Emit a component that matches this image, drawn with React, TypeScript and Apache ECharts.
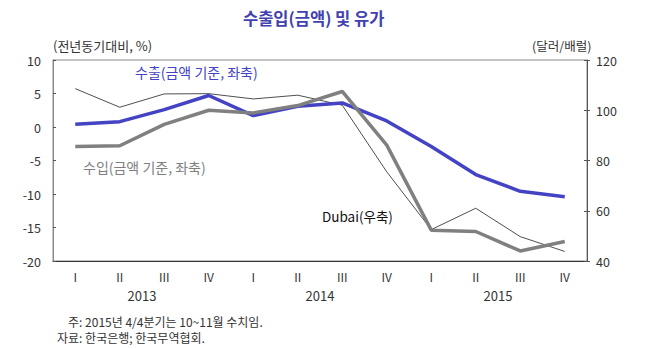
import React, { useEffect, useRef } from "react";
import * as echarts from "echarts";

const quarters = ["I", "II", "III", "IV", "I", "II", "III", "IV", "I", "II", "III", "IV"];
const years = ["2013", "2014", "2015"];
const exportValues = [0.4, 0.8, 2.6, 4.7, 1.7, 3.1, 3.6, 0.9, -2.9, -7.1, -9.6, -10.4];
const importValues = [-2.9, -2.8, 0.4, 2.5, 2.1, 3.2, 5.3, -2.7, -15.4, -15.6, -18.5, -17.1];
const dubaiValues = [108.6, 101.2, 106.5, 106.6, 104.5, 106.0, 102.0, 75.5, 52.5, 61.0, 49.7, 43.8];

const FONT = "Noto Sans CJK KR";
const BLUE = "#4343c4";
const GRAY = "#808080";

export default function App() {
  const ref = useRef<HTMLDivElement>(null);
  useEffect(() => {
    if (!ref.current) return;
    const chart = echarts.init(ref.current, undefined, { renderer: "svg" });
    chart.setOption({
      animation: false,
      textStyle: { fontFamily: FONT },
      grid: {
        left: 53,
        right: 63,
        top: 60,
        bottom: 88,
        show: true,
        borderColor: "#8a8a8a",
        borderWidth: 1,
      },
      xAxis: [
        {
          type: "category",
          data: quarters,
          boundaryGap: true,
          axisLine: { show: true, onZero: false, lineStyle: { color: "#333", width: 1 } },
          axisTick: { show: false },
          axisLabel: { color: "#333", fontSize: 12, margin: 9, fontFamily: FONT },
        },
        {
          type: "category",
          data: years,
          position: "bottom",
          boundaryGap: true,
          axisLine: { show: false, onZero: false },
          axisTick: { show: false },
          axisLabel: { color: "#333", fontSize: 13, margin: 28, fontFamily: FONT },
        },
      ],
      yAxis: [
        {
          type: "value",
          min: -20,
          max: 10,
          interval: 5,
          position: "left",
          axisLine: { show: true, lineStyle: { color: "#8a8a8a" } },
          axisTick: { show: true, inside: true, length: 3, lineStyle: { color: "#555" } },
          axisLabel: { color: "#333", fontSize: 12.5, margin: 12, fontFamily: FONT },
          splitLine: { show: false },
        },
        {
          type: "value",
          min: 40,
          max: 120,
          interval: 20,
          position: "right",
          axisLine: { show: true, lineStyle: { color: "#555" } },
          axisTick: { show: true, inside: false, length: 3, lineStyle: { color: "#555" } },
          axisLabel: { color: "#333", fontSize: 12.5, margin: 9, fontFamily: FONT },
          splitLine: { show: false },
        },
        {
          type: "value",
          min: 40,
          max: 120,
          interval: 20,
          position: "right",
          axisLine: { show: false },
          axisTick: { show: true, inside: true, length: 3, lineStyle: { color: "#555" } },
          axisLabel: { show: false },
          splitLine: { show: false },
        },
      ],
      series: [
        {
          name: "Dubai",
          type: "line",
          yAxisIndex: 1,
          data: dubaiValues,
          symbol: "none",
          lineStyle: { color: "#222", width: 0.8 },
          z: 1,
        },
        {
          name: "수출",
          type: "line",
          yAxisIndex: 0,
          data: exportValues,
          symbol: "none",
          lineStyle: { color: BLUE, width: 3.5 },
          z: 2,
        },
        {
          name: "수입",
          type: "line",
          yAxisIndex: 0,
          data: importValues,
          symbol: "none",
          lineStyle: { color: GRAY, width: 3.5 },
          z: 3,
        },
      ],
      graphic: [
        {
          type: "text",
          left: 243,
          top: 10,
          style: { text: "수출입(금액) 및 유가", fill: "#4141b0", font: `bold 16.5px '${FONT}'` },
        },
        {
          type: "text",
          left: 53,
          top: 39,
          style: { text: "(전년동기대비, %)", fill: "#333", font: `13px '${FONT}'` },
        },
        {
          type: "text",
          left: 532,
          top: 39,
          style: { text: "(달러/배럴)", fill: "#333", font: `12.5px '${FONT}'` },
        },
        {
          type: "text",
          left: 135,
          top: 65,
          style: { text: "수출(금액 기준, 좌축)", fill: BLUE, font: `14px '${FONT}'` },
        },
        {
          type: "text",
          left: 83,
          top: 160,
          style: { text: "수입(금액 기준, 좌축)", fill: GRAY, font: `14px '${FONT}'` },
        },
        {
          type: "text",
          left: 322,
          top: 209,
          style: { text: "Dubai(우축)", fill: "#111", font: `13.5px '${FONT}'` },
        },
        {
          type: "text",
          left: 68,
          top: 315,
          style: { text: "주: 2015년 4/4분기는 10~11월 수치임.", fill: "#333", font: `12px '${FONT}'` },
        },
        {
          type: "text",
          left: 57,
          top: 331,
          style: { text: "자료: 한국은행; 한국무역협회.", fill: "#333", font: `12px '${FONT}'` },
        },
      ],
    });
    return () => chart.dispose();
  }, []);
  return <div ref={ref} style={{ width: 650, height: 349, position: "absolute", left: 0, top: 0 }} />;
}
